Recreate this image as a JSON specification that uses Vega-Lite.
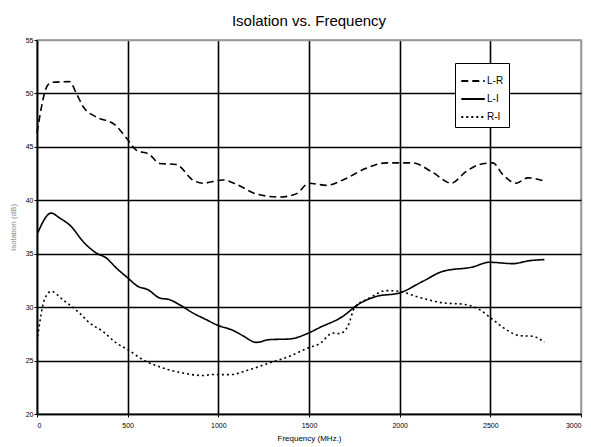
{
  "$schema": "https://vega.github.io/schema/vega-lite/v6.json",
  "width": 544,
  "height": 374,
  "autosize": "none",
  "padding": {"left": 37, "top": 40, "right": 10, "bottom": 33},
  "background": "white",
  "title": {"text": "Isolation vs. Frequency", "font": "Liberation Sans", "fontSize": 15, "fontWeight": "normal", "color": "black", "offset": 7, "anchor": "middle"},
  "config": {
    "view": {"stroke": "#999999", "strokeWidth": 1.5},
    "axis": {"labelFont": "Liberation Sans", "titleFont": "Liberation Sans", "labelFontSize": 7, "titleFontSize": 8, "titleFontWeight": "normal", "labelColor": "black", "domainColor": "black", "domainWidth": 1.5, "tickColor": "black", "tickSize": 3, "gridWidth": 1.6}
  },
  "data": {"values": [
    {"f": 0, "iso": 46.3, "s": "L-R"},
    {"f": 60, "iso": 50.8, "s": "L-R"},
    {"f": 87, "iso": 51.05, "s": "L-R"},
    {"f": 179, "iso": 51.1, "s": "L-R"},
    {"f": 216, "iso": 50.05, "s": "L-R"},
    {"f": 253, "iso": 48.8, "s": "L-R"},
    {"f": 326, "iso": 47.8, "s": "L-R"},
    {"f": 427, "iso": 47.1, "s": "L-R"},
    {"f": 492, "iso": 45.85, "s": "L-R"},
    {"f": 547, "iso": 44.7, "s": "L-R"},
    {"f": 620, "iso": 44.3, "s": "L-R"},
    {"f": 676, "iso": 43.45, "s": "L-R"},
    {"f": 768, "iso": 43.35, "s": "L-R"},
    {"f": 859, "iso": 41.9, "s": "L-R"},
    {"f": 914, "iso": 41.6, "s": "L-R"},
    {"f": 1025, "iso": 41.9, "s": "L-R"},
    {"f": 1098, "iso": 41.5, "s": "L-R"},
    {"f": 1209, "iso": 40.6, "s": "L-R"},
    {"f": 1337, "iso": 40.3, "s": "L-R"},
    {"f": 1429, "iso": 40.6, "s": "L-R"},
    {"f": 1500, "iso": 41.6, "s": "L-R"},
    {"f": 1595, "iso": 41.4, "s": "L-R"},
    {"f": 1687, "iso": 41.9, "s": "L-R"},
    {"f": 1815, "iso": 43.0, "s": "L-R"},
    {"f": 1926, "iso": 43.5, "s": "L-R"},
    {"f": 2072, "iso": 43.5, "s": "L-R"},
    {"f": 2183, "iso": 42.6, "s": "L-R"},
    {"f": 2284, "iso": 41.6, "s": "L-R"},
    {"f": 2367, "iso": 42.7, "s": "L-R"},
    {"f": 2440, "iso": 43.35, "s": "L-R"},
    {"f": 2514, "iso": 43.5, "s": "L-R"},
    {"f": 2569, "iso": 42.4, "s": "L-R"},
    {"f": 2643, "iso": 41.6, "s": "L-R"},
    {"f": 2707, "iso": 42.1, "s": "L-R"},
    {"f": 2798, "iso": 41.8, "s": "L-R"},
    {"f": 4, "iso": 36.95, "s": "L-I"},
    {"f": 78, "iso": 38.8, "s": "L-I"},
    {"f": 124, "iso": 38.35, "s": "L-I"},
    {"f": 188, "iso": 37.56, "s": "L-I"},
    {"f": 253, "iso": 36.16, "s": "L-I"},
    {"f": 326, "iso": 35.07, "s": "L-I"},
    {"f": 382, "iso": 34.6, "s": "L-I"},
    {"f": 437, "iso": 33.67, "s": "L-I"},
    {"f": 501, "iso": 32.73, "s": "L-I"},
    {"f": 556, "iso": 31.95, "s": "L-I"},
    {"f": 611, "iso": 31.64, "s": "L-I"},
    {"f": 676, "iso": 30.86, "s": "L-I"},
    {"f": 731, "iso": 30.7, "s": "L-I"},
    {"f": 786, "iso": 30.23, "s": "L-I"},
    {"f": 859, "iso": 29.46, "s": "L-I"},
    {"f": 933, "iso": 28.83, "s": "L-I"},
    {"f": 997, "iso": 28.3, "s": "L-I"},
    {"f": 1080, "iso": 27.83, "s": "L-I"},
    {"f": 1135, "iso": 27.33, "s": "L-I"},
    {"f": 1209, "iso": 26.7, "s": "L-I"},
    {"f": 1282, "iso": 26.96, "s": "L-I"},
    {"f": 1392, "iso": 27.02, "s": "L-I"},
    {"f": 1494, "iso": 27.55, "s": "L-I"},
    {"f": 1560, "iso": 28.1, "s": "L-I"},
    {"f": 1687, "iso": 29.14, "s": "L-I"},
    {"f": 1769, "iso": 30.23, "s": "L-I"},
    {"f": 1871, "iso": 31.0, "s": "L-I"},
    {"f": 1999, "iso": 31.33, "s": "L-I"},
    {"f": 2128, "iso": 32.42, "s": "L-I"},
    {"f": 2238, "iso": 33.35, "s": "L-I"},
    {"f": 2403, "iso": 33.76, "s": "L-I"},
    {"f": 2495, "iso": 34.2, "s": "L-I"},
    {"f": 2624, "iso": 34.07, "s": "L-I"},
    {"f": 2716, "iso": 34.35, "s": "L-I"},
    {"f": 2798, "iso": 34.45, "s": "L-I"},
    {"f": 4, "iso": 27.27, "s": "R-I"},
    {"f": 41, "iso": 30.7, "s": "R-I"},
    {"f": 78, "iso": 31.48, "s": "R-I"},
    {"f": 142, "iso": 30.7, "s": "R-I"},
    {"f": 234, "iso": 29.46, "s": "R-I"},
    {"f": 290, "iso": 28.52, "s": "R-I"},
    {"f": 363, "iso": 27.73, "s": "R-I"},
    {"f": 437, "iso": 26.65, "s": "R-I"},
    {"f": 501, "iso": 26.02, "s": "R-I"},
    {"f": 584, "iso": 25.08, "s": "R-I"},
    {"f": 694, "iso": 24.31, "s": "R-I"},
    {"f": 804, "iso": 23.84, "s": "R-I"},
    {"f": 914, "iso": 23.6, "s": "R-I"},
    {"f": 973, "iso": 23.7, "s": "R-I"},
    {"f": 1062, "iso": 23.68, "s": "R-I"},
    {"f": 1172, "iso": 24.15, "s": "R-I"},
    {"f": 1282, "iso": 24.78, "s": "R-I"},
    {"f": 1392, "iso": 25.4, "s": "R-I"},
    {"f": 1494, "iso": 26.18, "s": "R-I"},
    {"f": 1560, "iso": 26.6, "s": "R-I"},
    {"f": 1632, "iso": 27.58, "s": "R-I"},
    {"f": 1668, "iso": 27.52, "s": "R-I"},
    {"f": 1714, "iso": 28.2, "s": "R-I"},
    {"f": 1751, "iso": 29.93, "s": "R-I"},
    {"f": 1834, "iso": 30.86, "s": "R-I"},
    {"f": 1926, "iso": 31.55, "s": "R-I"},
    {"f": 1999, "iso": 31.48, "s": "R-I"},
    {"f": 2091, "iso": 31.0, "s": "R-I"},
    {"f": 2220, "iso": 30.45, "s": "R-I"},
    {"f": 2367, "iso": 30.23, "s": "R-I"},
    {"f": 2440, "iso": 29.77, "s": "R-I"},
    {"f": 2514, "iso": 28.83, "s": "R-I"},
    {"f": 2587, "iso": 27.9, "s": "R-I"},
    {"f": 2661, "iso": 27.33, "s": "R-I"},
    {"f": 2734, "iso": 27.27, "s": "R-I"},
    {"f": 2798, "iso": 26.7, "s": "R-I"}
  ]},
  "mark": {"type": "line", "color": "black", "strokeWidth": 1.6, "interpolate": "monotone"},
  "encoding": {
    "x": {"field": "f", "type": "quantitative", "scale": {"domain": [0, 3000], "nice": false},
      "axis": {"title": "Frequency (MHz.)", "format": "d", "values": [0, 500, 1000, 1500, 2000, 2500, 3000], "labelPadding": 4, "titlePadding": 6,
        "gridColor": {"condition": {"test": "datum.value == 3000", "value": "#999999"}, "value": "black"}}},
    "y": {"field": "iso", "type": "quantitative", "scale": {"domain": [20, 55], "nice": false, "zero": false},
      "axis": {"title": "Isolation (dB)", "titleColor": "#888888", "values": [20, 25, 30, 35, 40, 45, 50, 55], "labelPadding": 1, "titlePadding": 8,
        "gridColor": {"condition": {"test": "datum.value == 55", "value": "#999999"}, "value": "black"}}},
    "strokeDash": {"field": "s", "type": "nominal",
      "scale": {"domain": ["L-R", "L-I", "R-I"], "range": [[7, 4], [1, 0], [2, 3]]},
      "legend": {"title": null, "orient": "none", "legendX": 418, "legendY": 23, "fillColor": "white", "strokeColor": "black", "padding": 5, "symbolType": "stroke", "symbolStrokeColor": "black", "symbolStrokeWidth": 2, "symbolSize": 550, "labelFont": "Liberation Sans", "labelFontSize": 10, "labelColor": "black", "labelOffset": 1, "rowPadding": 0}}
  }
}
